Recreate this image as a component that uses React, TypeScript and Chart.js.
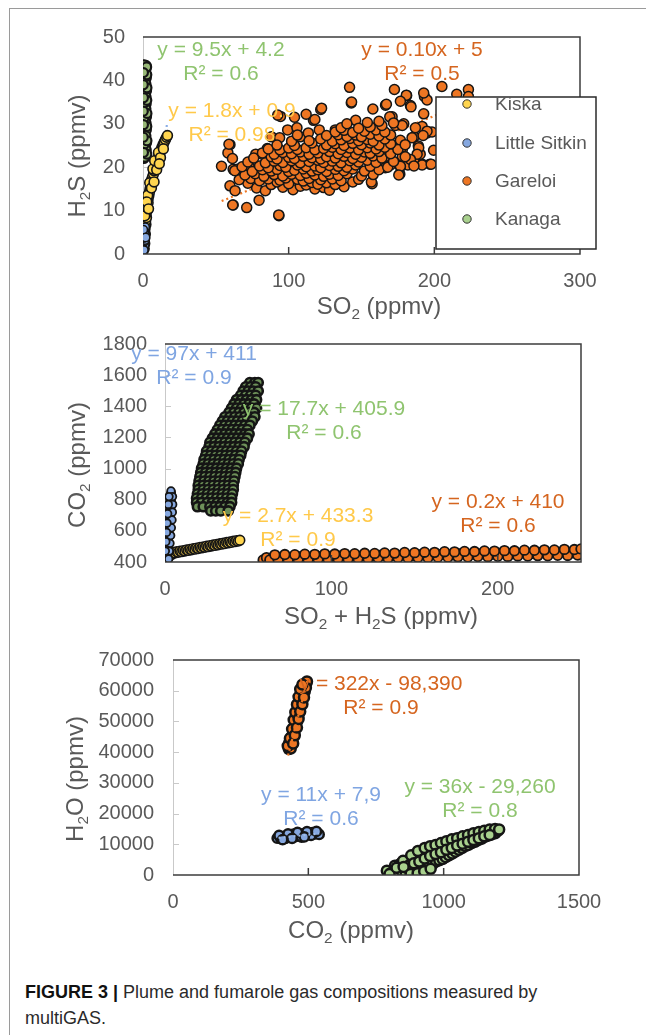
import { useEffect, useRef } from 'react';
import { Chart, registerables } from 'chart.js';

Chart.register(...registerables);

const FONT = "'Liberation Sans', Arial, Helvetica, sans-serif";

// ---------- colours ----------
const C_KISKA = '#FFD54F';
const C_SITKIN = '#86A8E0';
const C_GARELOI = '#EE7623';
const C_KANAGA = '#A9D18E';
const C_KANAGA_DENSE = '#6E9159';
const T_GREEN = '#8FC46F';
const T_ORANGE = '#D5651F';
const T_YELLOW = '#FFC94A';
const T_BLUE = '#7FA5E2';
const EDGE = '#151515';

// ---------- tick labels ----------
const X1_TICKS = [0, 100, 200, 300];
const Y1_TICKS = [0, 10, 20, 30, 40, 50];
const X2_TICKS = [0, 100, 200];
const Y2_TICKS = [400, 600, 800, 1000, 1200, 1400, 1600, 1800];
const X3_TICKS = [0, 500, 1000, 1500];
const Y3_TICKS = [0, 10000, 20000, 30000, 40000, 50000, 60000, 70000];

const LEGEND_NAMES = ['Kiska', 'Little Sitkin', 'Gareloi', 'Kanaga'];

// ---------- chart 1: SO2 vs H2S ----------
const P1_KANAGA: [number, number][] = [
  [0.6, 22], [1.6, 22.5], [1.0, 23.2], [2.2, 23.8], [0.5, 24.5], [1.5, 25], [2.4, 25.6], [0.8, 26.2], [1.8, 26.8],
  [0.4, 27.5], [1.2, 28], [2.3, 28.6], [0.7, 29.2], [1.7, 29.8], [0.5, 30.5], [1.4, 31], [2.4, 31.6], [0.9, 32.2],
  [1.9, 32.8], [0.4, 33.5], [1.3, 34], [2.2, 34.6], [0.8, 35.2], [1.8, 35.8], [0.5, 36.5], [1.5, 37], [2.4, 37.6],
  [1.0, 38.2], [1.9, 38.8], [0.6, 39.5], [1.4, 40], [2.3, 40.6], [0.9, 41.2], [1.8, 41.8], [0.5, 42.4], [1.4, 43],
  [2.2, 43.4], [1.0, 43.6], [1.2, 22.3], [2.0, 24.2], [0.9, 25.3], [2.0, 27.2], [1.0, 30.1], [2.1, 30.2], [0.6, 31.3],
  [2.0, 33.4], [1.1, 35.5], [2.1, 36.2], [0.7, 37.9], [2.0, 39.2], [1.1, 40.8], [2.0, 42.5], [0.8, 34.8],
  [2.6, 23.0], [2.7, 26.1], [2.6, 29.4], [2.7, 32.4], [2.6, 35.4], [2.7, 38.3], [2.6, 41.3], [2.5, 43.1],
  [0.3, 23.4], [0.2, 26.9], [0.3, 29.8], [0.2, 32.9], [0.3, 36.0], [0.2, 39.0], [0.3, 41.8],
];
const P1_SITKIN: [number, number][] = [
  [0.3, 0.6], [0.9, 1.2], [0.4, 1.8], [1.2, 2.2], [0.6, 2.8], [1.4, 3.2], [0.3, 3.7], [1.0, 4.1], [1.6, 4.5],
  [0.5, 4.9], [1.2, 5.4], [0.8, 5.9], [1.5, 6.2], [0.2, 5.6], [1.8, 3.8], [0.6, 0.9],
];
const P1_KISKA: [number, number][] = [
  [0.8, 1.2], [1.2, 2.4], [1.0, 3.5], [1.6, 4.6], [1.4, 5.8], [2.0, 6.8], [1.8, 7.6], [2.4, 8.4], [2.2, 9.3],
  [2.8, 10.1], [3.0, 11.0], [3.5, 11.8], [3.4, 12.7], [4.0, 13.4], [4.4, 14.2], [4.8, 15.0], [5.4, 15.6],
  [5.2, 16.5], [6.0, 17.2], [6.6, 17.8], [7.2, 18.5], [7.6, 19.2], [8.4, 19.8], [9.0, 20.6], [9.6, 21.3],
  [10.2, 22.0], [11.0, 22.6], [11.6, 23.3], [12.4, 24.0], [13.0, 24.6], [13.8, 25.2], [14.6, 25.8], [15.4, 26.4],
  [16.2, 26.9], [16.8, 27.3], [3.2, 13.5], [4.6, 16.4], [6.8, 19.6], [8.0, 21.5], [10.6, 23.4], [12.0, 22.2],
  [14.0, 24.2], [2.6, 12.0], [5.8, 15.2], [9.4, 19.4], [1.2, 8.8], [3.8, 10.4], [7.6, 16.6], [11.2, 20.8],
];
const P1_GARELOI: [number, number][] = [
  // sparse outer points
  [53.9, 20.2], [59.7, 25.2], [58.3, 23.3], [61.4, 22.0], [61.9, 19.5], [64.8, 19.5], [59.7, 15.7], [63.2, 14.6],
  [61.9, 11.3], [71.2, 10.7], [79.7, 12.4], [93.3, 8.8], [72.8, 20.2], [73.9, 17.6], [67.5, 17.6], [79.7, 17.6],
  [77.4, 23.0], [82, 23.0], [85.3, 24.3], [94.4, 31.7], [88.2, 27.0], [93.8, 26.8], [99.3, 28.6], [105.7, 29.1],
  [108, 27.0], [117, 30.8], [122, 33.3], [113.5, 27.9], [121, 28.6], [132, 28.6], [137.5, 28.1], [143, 34.8],
  [146, 30.8], [157.8, 33.4], [166.5, 34.3], [157.3, 16.2], [171, 31.6], [176.3, 18.4], [176.7, 26.2], [178, 24.0],
  [179, 30.0], [183.6, 34.2], [181, 36.5], [186, 27.0], [189, 24.9], [191.6, 20.7], [197, 20.7], [191.6, 29.4],
  [195, 27.9], [198.4, 28.1], [193.2, 36.3], [195, 35.5], [190.3, 23.0], [186, 21.6], [181.8, 20.5], [176.7, 20.1],
  [172.6, 37.9], [180.8, 36.6], [192.7, 37.1], [205.2, 38.6], [215.4, 36.8], [223.4, 37.9], [223.4, 36.3],
  [167.1, 34.5], [176.7, 35.2], [184, 33.9], [192.7, 32.3], [169.4, 31.6], [173.3, 29.6], [178, 29.6], [187, 29.1],
  [195, 28.3], [192.3, 27.3], [184.7, 26.8], [167.6, 26.3], [165.3, 23.9], [176.7, 23.9], [189.3, 24.5],
  [199.5, 23.9], [188.2, 23.0], [178, 22.5], [166.4, 22.4], [183.6, 21.8], [191.6, 20.5], [197.8, 20.7],
  [176.7, 20.2], [169.9, 20.5], [166.4, 19.9], [175.6, 18.2], [141.8, 38.4], [143.2, 35.0], [122.6, 33.6],
  [92.5, 32.0], [59, 25.3], [156.8, 16.6], [93.2, 9.0], [61.6, 11.3], [104, 31.5], [112, 32.2], [118, 31],
  // dense core
  [78, 15.2], [84, 14.6], [96, 15.4], [103, 14.8], [108, 15.6], [118, 15.0], [124, 15.3], [128, 14.7], [138, 15.5],
  [72, 16.3], [88, 16.0], [92, 16.6], [100, 16.2], [112, 15.9], [116, 16.5], [120, 16.1], [126, 16.4], [132, 16.0], [144, 16.6],
  [66, 17.1], [74, 17.4], [80, 16.9], [86, 17.3], [94, 17.0], [98, 17.5], [106, 17.2], [110, 16.8], [114, 17.4],
  [122, 17.1], [130, 17.3], [136, 16.9], [148, 17.2],
  [70, 18.2], [77, 18.5], [83, 17.9], [90, 18.3], [96, 18.0], [102, 18.4], [108, 18.1], [112, 18.6], [118, 18.2],
  [124, 17.9], [128, 18.4], [134, 18.1], [140, 18.5], [150, 18.0], [158, 18.3],
  [63, 19.2], [75, 19.0], [82, 19.4], [88, 19.1], [92, 19.5], [100, 19.0], [104, 19.3], [110, 19.6], [116, 19.1],
  [120, 19.4], [126, 19.0], [132, 19.5], [138, 19.2], [144, 19.6], [152, 19.1], [162, 19.4],
  [68, 20.1], [80, 20.3], [86, 19.9], [94, 20.4], [98, 20.0], [106, 20.5], [112, 20.1], [118, 20.3], [122, 19.9],
  [128, 20.4], [134, 20.2], [140, 20.0], [146, 20.5], [156, 20.2], [168, 20.0], [186, 20.3],
  [72, 21.2], [84, 21.0], [90, 21.4], [96, 21.1], [102, 21.5], [108, 21.0], [114, 21.3], [120, 21.6], [124, 21.1],
  [130, 21.4], [136, 21.0], [142, 21.5], [148, 21.2], [154, 21.6], [160, 21.1], [172, 21.3],
  [76, 22.1], [88, 22.4], [92, 21.9], [100, 22.3], [104, 22.0], [110, 22.5], [116, 22.2], [122, 21.9], [126, 22.4],
  [132, 22.1], [138, 22.5], [144, 22.0], [150, 22.3], [158, 22.6], [164, 22.1], [180, 22.4],
  [82, 23.3], [90, 23.0], [96, 23.4], [102, 23.1], [108, 23.5], [114, 23.0], [120, 23.3], [128, 23.6], [134, 23.1],
  [140, 23.4], [146, 23.0], [152, 23.5], [156, 23.2], [162, 23.6], [170, 23.1],
  [86, 24.2], [94, 24.0], [100, 24.4], [106, 24.1], [112, 24.5], [118, 24.0], [124, 24.3], [130, 24.6], [136, 24.1],
  [142, 24.4], [148, 24.0], [154, 24.5], [160, 24.2], [166, 24.6], [175, 24.1],
  [92, 25.1], [104, 25.0], [116, 25.6], [126, 25.1], [132, 25.4], [138, 25.0], [144, 25.5],
  [150, 25.2], [156, 25.6], [162, 25.1], [170, 25.4], [180, 25.2],
  [102, 26.0], [114, 26.1], [122, 26.5], [130, 26.0], [136, 26.3], [142, 26.6], [148, 26.1],
  [154, 26.4], [158, 26.0], [166, 26.5],
  [106, 27.4], [126, 27.3], [134, 27.5], [140, 27.1], [146, 27.4], [150, 27.0], [156, 27.6],
  [162, 27.2], [170, 27.4],
  [132, 28.1], [138, 28.5], [144, 28.0], [152, 28.3], [160, 28.6], [166, 28.1],
  [136, 29.1], [148, 29.0], [156, 29.3], [164, 29.6],
  [140, 30.0], [154, 30.3], [162, 30.6], [172, 30.2],
];
const T1_SITKIN: [number, number][] = [[0, 1], [16.4, 29.7]];
const T1_GARELOI: [number, number][] = [[54, 12.2], [205, 32.5]];

// ---------- chart 2: SO2+H2S vs CO2 ----------
const P2_SITKIN: [number, number][] = [
  [0.3, 402], [1.0, 410], [0.5, 420], [1.4, 428], [0.7, 438], [1.2, 448], [0.4, 456], [1.6, 464], [0.9, 474],
  [1.4, 484], [0.7, 494], [1.8, 502], [1.1, 512], [1.6, 522], [1.0, 532], [2.0, 540], [1.4, 550], [1.9, 560],
  [1.3, 570], [2.2, 578], [1.7, 588], [2.3, 598], [1.6, 608], [2.5, 616], [2.0, 626], [2.6, 636], [1.9, 646],
  [2.8, 654], [2.3, 664], [2.9, 674], [2.2, 684], [3.1, 692], [2.6, 702], [3.2, 712], [2.5, 722], [3.4, 730],
  [2.9, 740], [3.5, 750], [2.8, 760], [3.6, 768], [3.1, 778], [3.7, 788], [3.0, 798], [3.8, 806], [3.4, 816],
  [3.9, 826], [3.3, 836], [3.8, 846], [3.6, 856], [2.2, 420], [2.6, 470], [3.0, 520], [3.4, 570], [3.8, 620],
  [4.2, 670], [4.4, 720], [4.6, 770], [4.5, 820], [0.2, 470], [0.5, 530], [0.9, 590], [1.2, 650], [1.6, 710],
  [2.0, 770], [2.4, 820],
];
const P2_KISKA: [number, number][] = [
  [1, 440], [2.5, 445], [4, 448], [2, 452], [3, 458], [4, 455], [5, 462], [6, 458], [7, 466], [8, 462], [9, 470],
  [10, 466], [11, 474], [12, 470], [13, 478], [14, 474], [15, 482], [16, 478], [17, 486], [18, 482], [19, 490],
  [20, 486], [21, 494], [22, 490], [23, 498], [24, 494], [25, 502], [26, 498], [27, 506], [28, 502], [29, 510],
  [30, 506], [31, 514], [32, 510], [33, 518], [34, 514], [35, 522], [36, 518], [37, 526], [38, 522], [39, 530],
  [40, 526], [41, 534], [42, 530], [43, 538], [44, 534], [45, 540],
];
const P2_GARELOI: [number, number][] = [
  [59, 413],
  [61, 428], [65, 430], [69, 427], [73, 431], [77, 429], [81, 433], [85, 430], [89, 434], [93, 432], [97, 436],
  [101, 433], [105, 437], [109, 435], [113, 439], [117, 436], [121, 440], [125, 438], [129, 442], [133, 439],
  [137, 443], [141, 441], [145, 445], [149, 442], [153, 446], [157, 444], [161, 448], [165, 445], [169, 449],
  [173, 447], [177, 451], [181, 448], [185, 452], [189, 450], [193, 454], [197, 451], [201, 455], [205, 453],
  [209, 457], [213, 454], [217, 458], [221, 456], [225, 460], [229, 457], [233, 461], [237, 459], [241, 463],
  [245, 460], [249, 464],
  [63, 413], [68, 415], [74, 414], [80, 417], [86, 416], [92, 419], [98, 418], [104, 421], [110, 420], [116, 423],
  [122, 422], [128, 425], [134, 424], [140, 427], [146, 426], [152, 429], [158, 428], [164, 431], [170, 430],
  [176, 433], [182, 432], [188, 435], [194, 434], [200, 437], [206, 436], [212, 439], [218, 438], [224, 441],
  [230, 440], [236, 443], [242, 442], [248, 445],
  [66, 446], [72, 448], [78, 447], [84, 450], [90, 449], [96, 452], [102, 451], [108, 454], [114, 453], [120, 456],
  [126, 455], [132, 458], [138, 457], [144, 461], [150, 460], [156, 463], [162, 462], [168, 466], [174, 465],
  [180, 468], [186, 467], [192, 471], [198, 470], [204, 473], [210, 472], [216, 476], [222, 475], [228, 478],
  [234, 477], [240, 481], [246, 480], [250, 484],
];
const P2_KANAGA: [number, number][] = [
  [51, 1552], [54, 1552], [56, 1552],
  [48.5, 1525], [51.5, 1525], [54.5, 1525],
  [47, 1498], [50, 1498], [53, 1498], [56, 1498],
  [45.5, 1470], [48.5, 1470], [51.5, 1470], [54.5, 1470],
  [43, 1442], [46, 1442], [49, 1442], [52, 1442], [55, 1442],
  [41.5, 1415], [44.5, 1415], [47.5, 1415], [50.5, 1415], [53.5, 1415],
  [40, 1388], [43, 1388], [46, 1388], [49, 1388], [52, 1388], [55, 1388],
  [38.5, 1360], [41.5, 1360], [44.5, 1360], [47.5, 1360], [50.5, 1360], [53.5, 1360],
  [36, 1332], [39, 1332], [42, 1332], [45, 1332], [48, 1332], [51, 1332], [54, 1332],
  [34.5, 1305], [37.5, 1305], [40.5, 1305], [43.5, 1305], [46.5, 1305], [49.5, 1305], [52.5, 1305],
  [33, 1278], [36, 1278], [39, 1278], [42, 1278], [45, 1278], [48, 1278], [51, 1278],
  [31.5, 1250], [34.5, 1250], [37.5, 1250], [40.5, 1250], [43.5, 1250], [46.5, 1250], [49.5, 1250],
  [30, 1222], [33, 1222], [36, 1222], [39, 1222], [42, 1222], [45, 1222], [48, 1222], [50.5, 1222],
  [28.5, 1195], [31.5, 1195], [34.5, 1195], [37.5, 1195], [40.5, 1195], [43.5, 1195], [46.5, 1195], [49.5, 1195],
  [27, 1168], [30, 1168], [33, 1168], [36, 1168], [39, 1168], [42, 1168], [45, 1168], [48, 1168],
  [26.5, 1140], [29.5, 1140], [32.5, 1140], [35.5, 1140], [38.5, 1140], [41.5, 1140], [44.5, 1140], [47.5, 1140],
  [25, 1112], [28, 1112], [31, 1112], [34, 1112], [37, 1112], [40, 1112], [43, 1112], [46, 1112],
  [24.5, 1085], [27.5, 1085], [30.5, 1085], [33.5, 1085], [36.5, 1085], [39.5, 1085], [42.5, 1085], [45.5, 1085],
  [23.5, 1058], [26.5, 1058], [29.5, 1058], [32.5, 1058], [35.5, 1058], [38.5, 1058], [41.5, 1058], [44.5, 1058],
  [23, 1030], [26, 1030], [29, 1030], [32, 1030], [35, 1030], [38, 1030], [41, 1030], [44, 1030],
  [22, 1002], [25, 1002], [28, 1002], [31, 1002], [34, 1002], [37, 1002], [40, 1002], [43, 1002],
  [21.5, 975], [24.5, 975], [27.5, 975], [30.5, 975], [33.5, 975], [36.5, 975], [39.5, 975], [42.5, 975],
  [21, 948], [24, 948], [27, 948], [30, 948], [33, 948], [36, 948], [39, 948], [42, 948],
  [20.5, 920], [23.5, 920], [26.5, 920], [29.5, 920], [32.5, 920], [35.5, 920], [38.5, 920], [41.5, 920],
  [20, 892], [23, 892], [26, 892], [29, 892], [32, 892], [35, 892], [38, 892], [41, 892],
  [20, 865], [23, 865], [26, 865], [29, 865], [32, 865], [35, 865], [38, 865], [41, 865],
  [19.5, 838], [22.5, 838], [25.5, 838], [28.5, 838], [31.5, 838], [34.5, 838], [37.5, 838], [40.5, 838],
  [19, 810], [22, 810], [25, 810], [28, 810], [31, 810], [34, 810], [37, 810], [40, 810],
  [19, 782], [22, 782], [25.5, 782], [28.5, 782], [31.5, 782], [34.5, 782], [37.5, 782], [40, 782],
  [19.5, 755], [23, 755], [27, 755], [30, 755], [33, 755], [36, 755], [39, 755],
  [27.5, 728], [30.5, 728], [33.5, 728], [38, 728],
];
const T2_SITKIN: [number, number][] = [[0, 411], [4.9, 886]];

// ---------- chart 3: CO2 vs H2O ----------
const P3_GARELOI: [number, number][] = [
  [428, 41000], [432, 41800], [436, 42500], [430, 43200], [440, 44000], [438, 45000], [444, 46000], [448, 47000],
  [446, 48000], [452, 49000], [456, 49500], [454, 50500], [458, 51500], [462, 52500], [460, 53500], [466, 54500],
  [470, 55500], [468, 56500], [474, 57500], [478, 58500], [476, 59500], [482, 60000], [486, 60800], [488, 61500],
  [492, 62200], [495, 63000], [435, 41200], [441, 43000], [447, 45200], [451, 47500], [457, 50000], [463, 52000],
  [469, 54000], [475, 56500], [481, 58000], [487, 59800], [491, 61000],
  [424, 42000], [432, 44500], [440, 47500], [446, 50500], [452, 53000], [458, 55500], [464, 58000], [470, 60500],
  [478, 62000], [444, 42800], [450, 45500], [458, 48000], [464, 50800], [470, 53200], [478, 55600], [484, 57800],
];
const P3_SITKIN: [number, number][] = [
  [385, 12000], [395, 12400], [400, 11800], [410, 12600], [420, 12200], [430, 12800], [440, 12400], [450, 13000],
  [455, 12600], [465, 13200], [470, 12800], [480, 13400], [490, 13000], [500, 13600], [505, 13200], [515, 13800],
  [525, 13400], [535, 13600], [540, 13200], [415, 11900], [445, 13300], [475, 12300], [510, 12900],
  [392, 12900], [425, 13400], [460, 13900], [495, 14100], [530, 14200], [405, 11500], [440, 11900], [485, 12400],
];
const P3_KANAGA: [number, number][] = [
  [790, 1400], [805, 600], [818, 1600], [832, 500], [846, 1200], [860, 700], [874, 1600], [888, 1000], [900, 2200],
  [912, 1400], [924, 2800], [936, 2400], [948, 3400], [960, 3600], [972, 4400], [984, 4800], [996, 5200],
  [1008, 5800], [1020, 6400], [1032, 7000], [1044, 7600], [1056, 8200], [1068, 8800], [1080, 9400], [1092, 9800],
  [1104, 10400], [1116, 10800], [1128, 11400], [1140, 11800], [1152, 12400], [1164, 12800], [1176, 13200],
  [1190, 13600],
  [820, 3000], [840, 3600], [860, 4400], [880, 5200], [900, 6000], [920, 6800], [940, 7600], [960, 8200],
  [980, 8800], [1000, 9400], [1020, 10000], [1040, 10600], [1060, 11200], [1080, 11800], [1100, 12400],
  [1120, 12800], [1140, 13200], [1160, 13600], [1180, 14000], [1200, 14400],
  [850, 4600], [880, 6400], [905, 7800], [930, 8800], [950, 9400], [970, 9800], [990, 10400], [1010, 11000],
  [1030, 11600], [1050, 12000], [1070, 12600], [1090, 13000], [1110, 13600], [1130, 14000], [1150, 14400],
  [1170, 14800], [1190, 15000], [1205, 14800],
  [870, 3000], [890, 3800], [910, 4400], [930, 5400], [950, 6200], [970, 6800], [990, 7400], [1010, 8200],
  [1030, 8800], [1050, 9600], [1070, 10200], [1090, 10800], [1110, 11400], [1130, 12000], [1150, 12600],
  [1170, 13000], [800, 300], [826, 2400], [852, 2600], [878, 300], [904, 600], [928, 1200], [952, 2000],
];
const T3_GARELOI: [number, number][] = [[425, 38900], [497, 63500]];
const T3_SITKIN: [number, number][] = [[390, 12100], [540, 13500]];

// ---------- helpers ----------
type Seg = { t: string; sub?: boolean };
type Label = { lines: string[]; color: string; x: number; y: number };

const pts = (a: [number, number][]) => a.map(([x, y]) => ({ x, y }));

function scatter(data: [number, number][], fill: string, r: number, order: number, bw = 1.2) {
  return {
    type: 'scatter' as const,
    data: pts(data),
    backgroundColor: fill,
    borderColor: EDGE,
    borderWidth: bw,
    pointRadius: r,
    pointHoverRadius: r,
    order,
  };
}
function trend(data: [number, number][], color: string, order: number) {
  return {
    type: 'scatter' as const,
    data: pts(data),
    showLine: true,
    borderColor: color,
    backgroundColor: color,
    borderWidth: 2.2,
    borderDash: [2, 3],
    pointRadius: 0,
    fill: false,
    order,
  };
}

function drawRich(ctx: CanvasRenderingContext2D, segs: Seg[], size: number, color: string, cx: number, cy: number, rot: boolean) {
  const sub = size * 0.64;
  let w = 0;
  const widths = segs.map((s) => {
    ctx.font = `${s.sub ? sub : size}px ${FONT}`;
    const m = ctx.measureText(s.t).width;
    w += m;
    return m;
  });
  ctx.save();
  ctx.translate(cx, cy);
  if (rot) ctx.rotate(-Math.PI / 2);
  ctx.fillStyle = color;
  ctx.textAlign = 'left';
  ctx.textBaseline = 'alphabetic';
  let x = -w / 2;
  const base = size * 0.27;
  segs.forEach((s, i) => {
    ctx.font = `${s.sub ? sub : size}px ${FONT}`;
    ctx.fillText(s.t, x, s.sub ? base + size * 0.2 : base);
    x += widths[i];
  });
  ctx.restore();
}

const decoPlugin = {
  id: 'deco',
  beforeDatasetsDraw(chart: any) {
    const { ctx, chartArea: a } = chart;
    ctx.save();
    ctx.strokeStyle = '#c9c9c9';
    ctx.lineWidth = 1;
    ctx.beginPath();
    ctx.moveTo(a.left + 0.5, a.top);
    ctx.lineTo(a.left + 0.5, a.bottom);
    ctx.stroke();
    const ys = chart.scales.y;
    for (const t of ys.ticks) {
      const py = ys.getPixelForValue(t.value);
      if (py <= a.top + 1 || py >= a.bottom - 1) continue;
      ctx.beginPath();
      ctx.moveTo(a.left, Math.round(py) + 0.5);
      ctx.lineTo(a.left + 6, Math.round(py) + 0.5);
      ctx.stroke();
    }
    ctx.restore();
  },
  afterDatasetsDraw(chart: any, _args: any, o: any) {
    const { ctx, chartArea: a } = chart;
    ctx.save();
    ctx.strokeStyle = '#3c3c3c';
    ctx.lineWidth = 1.5;
    ctx.beginPath();
    ctx.moveTo(a.left, a.top);
    ctx.lineTo(a.right, a.top);
    ctx.lineTo(a.right, a.bottom);
    ctx.lineTo(a.left, a.bottom);
    ctx.stroke();
    const xs = chart.scales.x;
    for (const t of xs.ticks) {
      const px = xs.getPixelForValue(t.value);
      if (px <= a.left + 1 || px >= a.right - 1) continue;
      ctx.beginPath();
      ctx.moveTo(px, a.bottom);
      ctx.lineTo(px, a.bottom - 7);
      ctx.stroke();
    }
    ctx.textAlign = 'center';
    ctx.textBaseline = 'middle';
    ctx.font = `21px ${FONT}`;
    (o.labels as Label[]).forEach((lb) => {
      ctx.fillStyle = lb.color;
      lb.lines.forEach((s, i) => ctx.fillText(s, lb.x, lb.y + i * 24));
    });
    if (o.legend) {
      const L = o.legend;
      ctx.fillStyle = '#fff';
      ctx.fillRect(L.x, L.y, L.w, L.h);
      ctx.strokeStyle = '#2a2a2a';
      ctx.lineWidth = 1.5;
      ctx.strokeRect(L.x, L.y, L.w, L.h);
      const cols = [C_KISKA, C_SITKIN, C_GARELOI, C_KANAGA];
      LEGEND_NAMES.forEach((name, i) => {
        const yy = L.y + L.rows[i];
        ctx.beginPath();
        ctx.arc(L.x + L.mx, yy, 4.2, 0, Math.PI * 2);
        ctx.fillStyle = cols[i];
        ctx.fill();
        ctx.lineWidth = 1;
        ctx.strokeStyle = '#333';
        ctx.stroke();
        ctx.fillStyle = '#595959';
        ctx.font = `19px ${FONT}`;
        ctx.textAlign = 'left';
        ctx.textBaseline = 'middle';
        ctx.fillText(name, L.x + L.tx, yy + 1);
      });
    }
    drawRich(ctx, o.xTitle.segs, 24, '#595959', o.xTitle.x, o.xTitle.y, false);
    drawRich(ctx, o.yTitle.segs, 24, '#595959', o.yTitle.x, o.yTitle.y, true);
    ctx.restore();
  },
};

function axis(min: number, max: number, tickVals: number[], horizontal: boolean, size: number, gap: number) {
  return {
    type: 'linear' as const,
    min,
    max,
    // tick marks are not drawn (grid hidden) but their length sets the label gap
    grid: { display: false, drawTicks: true, tickLength: gap },
    border: { display: false },
    ticks: {
      padding: 0,
      color: '#595959',
      font: { size: 20, family: FONT },
      callback: (v: any) => String(v),
    },
    afterBuildTicks: (s: any) => {
      s.ticks = tickVals.map((v) => ({ value: v }));
    },
    afterFit: (s: any) => {
      if (horizontal) s.height = size;
      else s.width = size;
    },
  };
}

function makeConfig(datasets: any[], scales: any, padding: any, deco: any) {
  return {
    type: 'scatter' as const,
    data: { datasets },
    options: {
      responsive: false,
      animation: false as const,
      events: [],
      layout: { padding },
      scales,
      plugins: { legend: { display: false }, tooltip: { enabled: false }, deco },
    },
    plugins: [decoPlugin],
  };
}

const config1 = () =>
  makeConfig(
    [
      trend(T1_SITKIN, '#7FA5E2', 10),
      trend(T1_GARELOI, C_GARELOI, 11),
      scatter(P1_GARELOI, C_GARELOI, 5, 5, 1.5),
      scatter(P1_KANAGA, '#98B877', 4.5, 3, 2.2),
      scatter(P1_KISKA, C_KISKA, 4.9, 2, 1.6),
      scatter(P1_SITKIN, C_SITKIN, 4.2, 1, 1.6),
    ],
    { x: axis(0, 300, X1_TICKS, true, 76, 15), y: axis(0, 50, Y1_TICKS, false, 135, 18) },
    { left: 0, top: 29, right: 74, bottom: 0 },
    {
      labels: [
        { lines: ['y = 9.5x + 4.2', 'R² = 0.6'], color: T_GREEN, x: 213, y: 42 },
        { lines: ['y = 0.10x + 5', 'R² = 0.5'], color: T_ORANGE, x: 414, y: 42 },
        { lines: ['y = 1.8x + 0.9', 'R² = 0.98'], color: T_YELLOW, x: 224, y: 103 },
      ],
      legend: { x: 428, y: 89, w: 160, h: 152, mx: 31, tx: 59, rows: [7, 46, 84, 122] },
      xTitle: { segs: [{ t: 'SO' }, { t: '2', sub: true }, { t: ' (ppmv)' }], x: 371, y: 300 },
      yTitle: { segs: [{ t: 'H' }, { t: '2', sub: true }, { t: 'S (ppmv)' }], x: 71, y: 148 },
    }
  );

const config2 = () =>
  makeConfig(
    [
      trend(T2_SITKIN, '#7FA5E2', 10),
      scatter(P2_GARELOI, C_GARELOI, 4.8, 5, 1.8),
      scatter(P2_KANAGA, C_KANAGA_DENSE, 4.6, 4, 2.6),
      scatter(P2_KISKA, C_KISKA, 4.8, 3, 1.6),
      scatter(P2_SITKIN, C_SITKIN, 3.8, 2, 1.8),
    ],
    { x: axis(0, 250, X2_TICKS, true, 86, 15), y: axis(400, 1800, Y2_TICKS, false, 157, 18) },
    { left: 0, top: 14, right: 73, bottom: 0 },
    {
      labels: [
        { lines: ['y = 97x + 411', 'R² = 0.9'], color: T_BLUE, x: 186, y: 24 },
        { lines: ['y = 17.7x + 405.9', 'R² = 0.6'], color: T_GREEN, x: 316, y: 79 },
        { lines: ['y = 2.7x + 433.3', 'R² = 0.9'], color: T_YELLOW, x: 290, y: 186 },
        { lines: ['y = 0.2x + 410', 'R² = 0.6'], color: T_ORANGE, x: 490, y: 172 },
      ],
      legend: null,
      xTitle: { segs: [{ t: 'SO' }, { t: '2', sub: true }, { t: ' + H' }, { t: '2', sub: true }, { t: 'S (ppmv)' }], x: 373, y: 288 },
      yTitle: { segs: [{ t: 'CO' }, { t: '2', sub: true }, { t: ' (ppmv)' }], x: 71, y: 135 },
    }
  );

const config3 = () =>
  makeConfig(
    [
      trend(T3_SITKIN, '#9DBCEB', 1),
      trend(T3_GARELOI, C_GARELOI, 2),
      scatter(P3_GARELOI, C_GARELOI, 5, 5, 2.5),
      scatter(P3_SITKIN, C_SITKIN, 4.6, 4, 2.5),
      scatter(P3_KANAGA, C_KANAGA, 5, 3, 2.5),
    ],
    { x: axis(0, 1500, X3_TICKS, true, 83, 15), y: axis(0, 70000, Y3_TICKS, false, 165, 19) },
    { left: 0, top: 11, right: 75, bottom: 0 },
    {
      labels: [
        { lines: ['y = 322x - 98,390', 'R² = 0.9'], color: T_ORANGE, x: 373, y: 36 },
        { lines: ['y = 11x + 7,9', 'R² = 0.6'], color: T_BLUE, x: 313, y: 147 },
        { lines: ['y = 36x - 29,260', 'R² = 0.8'], color: T_GREEN, x: 472, y: 139 },
      ],
      legend: null,
      xTitle: { segs: [{ t: 'CO' }, { t: '2', sub: true }, { t: ' (ppmv)' }], x: 343, y: 284 },
      yTitle: { segs: [{ t: 'H' }, { t: '2', sub: true }, { t: 'O (ppmv)' }], x: 69, y: 131 },
    }
  );

function ChartCanvas({ top, height, config }: { top: number; height: number; config: () => any }) {
  const ref = useRef<HTMLCanvasElement | null>(null);
  useEffect(() => {
    if (!ref.current) return;
    const c = new Chart(ref.current, config());
    return () => c.destroy();
  }, [config]);
  return (
    <canvas
      ref={ref}
      width={646}
      height={height}
      style={{ position: 'absolute', left: 0, top, width: 646, height, display: 'block' }}
    />
  );
}

export default function App() {
  useEffect(() => {
    document.body.style.overflow = 'hidden';
  }, []);
  return (
    <div style={{ position: 'relative', width: 646, height: 1027, fontFamily: FONT }}>
      <div
        style={{
          position: 'absolute',
          left: 1,
          top: 0,
          right: 0,
          bottom: 0,
          borderTop: '1px solid #9a9a9a',
          borderLeft: '1px solid #9a9a9a',
        }}
      />
      <ChartCanvas top={0} height={322} config={config1} />
      <ChartCanvas top={322} height={318} config={config2} />
      <ChartCanvas top={640} height={310} config={config3} />
      <div
        style={{
          position: 'absolute',
          left: 17,
          top: 971,
          fontSize: 18,
          lineHeight: '26px',
          color: '#2a2a2a',
          whiteSpace: 'nowrap',
        }}
      >
        <b style={{ color: '#111' }}>FIGURE 3 |</b> Plume and fumarole gas compositions measured by
        <br />
        multiGAS.
      </div>
    </div>
  );
}
